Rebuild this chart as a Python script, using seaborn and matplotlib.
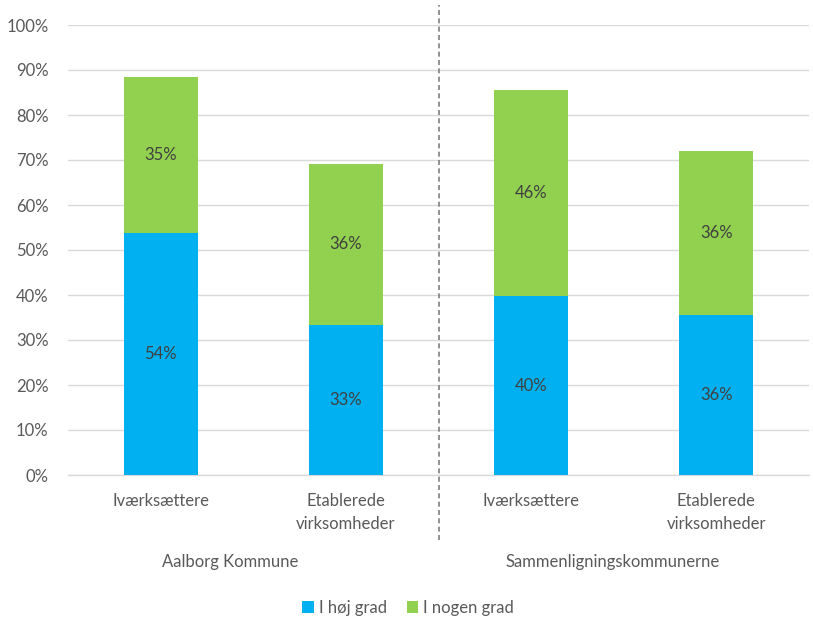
import matplotlib
matplotlib.use("Agg")
import matplotlib.pyplot as plt
import seaborn as sns
import pandas as pd
import numpy as np

categories = ["Iværksættere", "Etablerede\nvirksomheder", "Iværksættere", "Etablerede\nvirksomheder"]
groups = ["Aalborg Kommune", "Sammenligningskommunerne"]
hoej_grad = [53.8, 33.3, 39.7, 35.6]
nogen_grad = [34.7, 35.9, 45.9, 36.3]
hoej_labels = ["54%", "33%", "40%", "36%"]
nogen_labels = ["35%", "36%", "46%", "36%"]
series_names = ["I høj grad", "I nogen grad"]
yticks = [0, 10, 20, 30, 40, 50, 60, 70, 80, 90, 100]

BLUE = "#00B0F0"
GREEN = "#92D050"
TXT = "#595959"
FS = 12

sns.set_theme(style="white")
plt.rcParams["font.family"] = ["Lato", "DejaVu Sans"]

df = pd.DataFrame({
    "pos": [f"c{i}" for i in range(4)],
    "hoej": hoej_grad,
    "nogen": nogen_grad,
})
df["total"] = df["hoej"] + df["nogen"]

fig = plt.figure(figsize=(8.13, 6.19), dpi=100)
ax = fig.add_axes([68/813, (619-475)/619, (809-68)/813, 450/619])

sns.barplot(data=df, x="pos", y="total", color=GREEN, width=0.4, ax=ax,
            saturation=1, label=series_names[1], zorder=2, linewidth=0)
sns.barplot(data=df, x="pos", y="hoej", color=BLUE, width=0.4, ax=ax,
            saturation=1, label=series_names[0], zorder=3, linewidth=0)

for i in range(4):
    ax.text(i, hoej_grad[i] / 2, hoej_labels[i], ha="center", va="center",
            fontsize=FS, color="#404040", zorder=4)
    ax.text(i, hoej_grad[i] + nogen_grad[i] / 2, nogen_labels[i], ha="center",
            va="center", fontsize=FS, color="#404040", zorder=4)

ax.set_ylim(0, 100)
ax.set_xlim(-0.5, 3.5)
ax.set_yticks(yticks)
ax.set_yticklabels([f"{t}%" for t in yticks], fontsize=FS, color=TXT)
ax.set_xticks(range(4))
ax.set_xticklabels(categories, fontsize=FS, color=TXT, linespacing=1.5)
ax.tick_params(axis="x", length=0, pad=13)
ax.tick_params(axis="y", length=0, pad=14)
ax.set_xlabel("")
ax.set_ylabel("")
ax.yaxis.grid(True, color="#D9D9D9", linewidth=1, zorder=0)
ax.set_axisbelow(True)
for s in ["top", "right", "left"]:
    ax.spines[s].set_visible(False)
ax.spines["bottom"].set_color("#D9D9D9")
ax.spines["bottom"].set_linewidth(1)

# group separator
ax.axvline(1.5, ymin=(475-540)/450, ymax=(475-5)/450, color="#7F7F7F",
           linestyle=(0, (3, 2)), linewidth=1.2, clip_on=False, zorder=5)

# group labels
group_x = [0.374, 2.44]
for gx, g in zip(group_x, groups):
    ax.text(gx, -(562-475)/4.5, g, ha="center", va="center",
            fontsize=FS, color=TXT, clip_on=False)

handles, labels = ax.get_legend_handles_labels()
order = [labels.index(n) for n in series_names]
leg = fig.legend([handles[o] for o in order], [labels[o] for o in order],
                 loc="center", bbox_to_anchor=(408/813, (619-608)/619), ncol=2,
                 frameon=False, fontsize=FS, handlelength=0.7, handleheight=0.7,
                 handletextpad=0.3, columnspacing=1.2)
for t in leg.get_texts():
    t.set_color(TXT)
if ax.get_legend() is not None:
    ax.get_legend().remove()

fig.savefig("out.png", dpi=100)
